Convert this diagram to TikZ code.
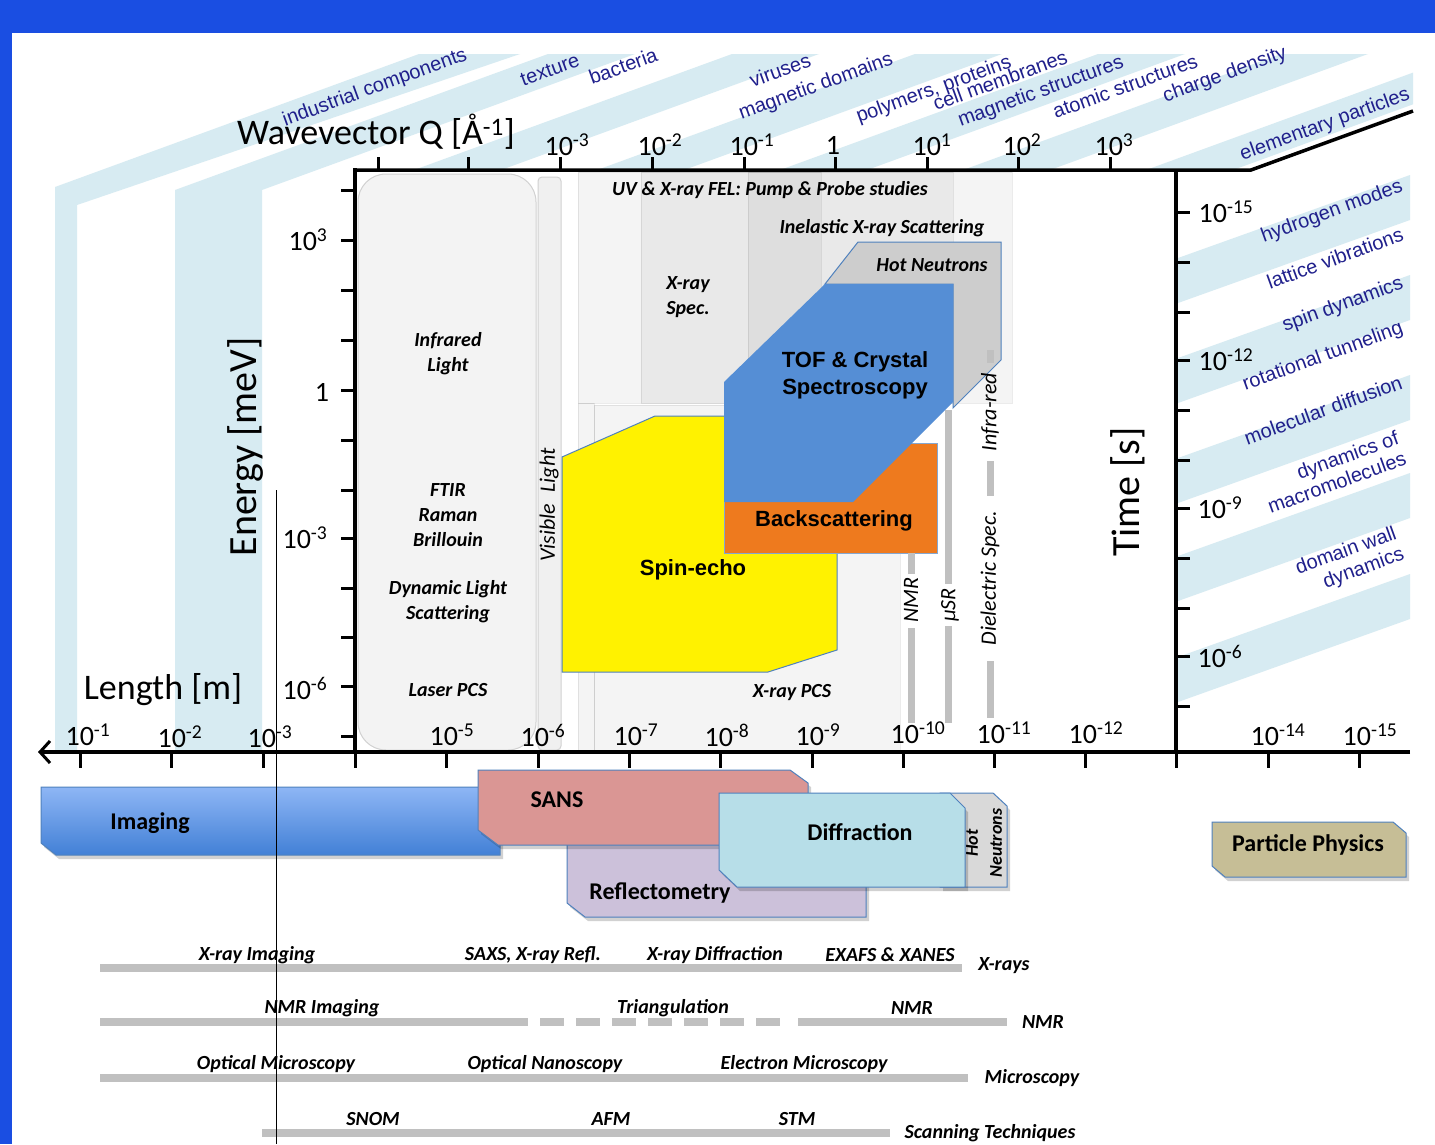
\documentclass[tikz,border=0pt]{standalone}
\usepackage{fontspec}
\setmainfont{Carlito}
\newfontfamily\arialf{Liberation Sans}
\usetikzlibrary{arrows.meta}
\newcommand\fsz[2]{\fontsize{#1}{#2}\selectfont}
\newcommand\sups[1]{\textsuperscript{#1}}
\definecolor{frameblue}{RGB}{26,78,226}
\definecolor{bandblue}{RGB}{215,235,242}
\definecolor{navyt}{RGB}{32,32,140}
\definecolor{tofblue}{RGB}{85,142,213}
\definecolor{bsorange}{RGB}{238,122,30}
\definecolor{edgeblue}{RGB}{79,129,189}
\definecolor{hotgray}{RGB}{205,205,205}
\definecolor{barg}{RGB}{192,192,192}
\definecolor{sanspink}{RGB}{218,150,148}
\definecolor{reflil}{RGB}{204,193,218}
\definecolor{diffblue}{RGB}{183,222,232}
\definecolor{ppkhaki}{RGB}{198,190,150}
\definecolor{imgtop}{RGB}{142,182,245}
\definecolor{imgbot}{RGB}{66,128,214}
\definecolor{panelgray}{RGB}{243,243,243}
\tikzset{
 axisline/.style={line width=3.5pt, black},
 tk/.style={line width=3pt, black},
 numlbl/.style={font=\fsz{28}{30}, inner sep=0pt},
 axlbl/.style={font=\fsz{36}{40}, inner sep=0pt},
 bandlbl/.style={text=navyt, font=\arialf\fsz{20}{22}, rotate=20, inner sep=0pt},
 plotlbl/.style={font=\bfseries\itshape\fsz{20}{25}, align=center, inner sep=0pt},
 biglbl/.style={font=\arialf\bfseries\fsz{22}{27}, align=center, inner sep=0pt},
 vertlbl/.style={font=\itshape\fsz{22}{24}, rotate=90, inner sep=0pt},
 boxlbl/.style={font=\bfseries\fsz{24}{26}, inner sep=0pt},
 rowlbl/.style={font=\bfseries\itshape\fsz{20}{22}, inner sep=0pt},
 rowbar/.style={line width=8pt, barg},
 techbar/.style={line width=7pt, barg},
 regionbox/.style={fill=black, fill opacity=0.045, draw=black, draw opacity=0.08, line width=0.8pt},
 boxedge/.style={draw=edgeblue, line width=1pt},
 shadowbox/.style={fill=black, opacity=0.18},
}
\begin{document}
\begin{tikzpicture}[x=1pt,y=-1pt]
\useasboundingbox (0,0) rectangle (1435,1144);
\fill[frameblue] (0,0) rectangle (1435,1144);
\fill[white] (12,33) rectangle (1435,1144);

% ---- left strips and top-face bands
\fill[bandblue] (55,752) -- (55,187) -- (419,54) -- (520,54) -- (77,205) -- (77,752) -- cycle;
\fill[bandblue] (175,752) -- (175,190) -- (548,54) -- (635,54) -- (262,190) -- (262,752) -- cycle;
\begin{scope}
\clip (355,54) rectangle (1413,170);
\foreach \q in {414,597,780,963,1146}
  \fill[bandblue] (\q,170) -- ({\q+87},170) -- ({\q+87+318},54) -- ({\q+318},54) -- cycle;
\end{scope}
% ---- right-face bands
\begin{scope}
\clip (1178,170) rectangle (1410,752);
\foreach \t in {175,275,375,473,574}
  \fill[bandblue] (1178,{\t+83}) -- (1410,\t) -- (1410,{\t+45}) -- (1178,{\t+128}) -- cycle;
\end{scope}

% ---- top-face labels
\node[bandlbl] (l1) at (375,88) {industrial components};
\node[bandlbl] (l2) at (550,70) {texture};
\node[bandlbl] (l3) at (623,66) {bacteria};
\node[bandlbl] (l4) at (780,70) {viruses};
\node[bandlbl] (l5) at (816,87) {magnetic domains};
\node[bandlbl] (l6) at (934,90) {polymers, proteins};
\node[bandlbl] (l7) at (1000,80) {cell membranes};
\node[bandlbl] (l8) at (1041,92) {magnetic structures};
\node[bandlbl] (l9) at (1125,86) {atomic structures};
\node[bandlbl] (l10) at (1225,75) {charge density};
\node[bandlbl] (l11) at (1325,125) {elementary particles};
% ---- right-face labels
\node[bandlbl] (r1) at (1332,212) {hydrogen modes};
\node[bandlbl] (r2) at (1335,258) {lattice vibrations};
\node[bandlbl] (r3) at (1343,305) {spin dynamics};
\node[bandlbl] (r4) at (1323,357) {rotational tunneling};
\node[bandlbl] (r5) at (1323,410) {molecular diffusion};
\node[bandlbl, align=right] (r6) at (1333,472) {dynamics of\\macromolecules};
\node[bandlbl, align=right] (r7) at (1350,562) {domain wall\\dynamics};

% ---- plot background regions
\draw[fill=panelgray, draw=black!18, line width=1pt, rounded corners=28pt] (358,174) rectangle (536,750);
\draw[fill=black!6, draw=black!18, line width=1pt, rounded corners=4pt] (538,177) rectangle (561,750);
\draw[regionbox] (578,172) rectangle (1012,403);
\draw[regionbox] (641,172) rectangle (821,403);
\draw[regionbox] (748,172) rectangle (953,403);
\draw[regionbox] (594,405) rectangle (900,750);
\draw[regionbox] (578,403) rectangle (594,750);

% ---- neutron techniques
\draw[boxedge, fill=hotgray] (825,284) -- (858,242) -- (1001,242) -- (1001,360) -- (953,408) -- (953,284) -- cycle;
\draw[boxedge, fill=yellow] (562,457) -- (655,416) -- (790,416) -- (837,445) -- (837,650) -- (768,672) -- (562,672) -- cycle;
\draw[draw=edgeblue!70, line width=1pt, fill=bsorange] (724,443) rectangle (937,553);
\fill[tofblue] (724,382) -- (825,284) -- (953,284) -- (953,402) -- (853,502) -- (724,502) -- cycle;

% ---- NMR, muSR, dielectric bars
\draw[techbar] (911,553) -- (911,574);
\draw[techbar] (911,628) -- (911,723);
\draw[techbar] (948,410) -- (948,584);
\draw[techbar] (948,626) -- (948,723);
\draw[techbar] (990,350) -- (990,363);
\draw[techbar] (990,461) -- (990,496);
\draw[techbar] (990,661) -- (990,718);
\node[vertlbl] (nmr) at (911,600) {NMR};
\node[vertlbl] (musr) at (950,605) {μSR};
\node[vertlbl] (ir) at (990,412) {Infra-red};
\node[vertlbl] (diel) at (990,578) {Dielectric Spec.};

% ---- plot labels
\node[plotlbl] (p1) at (448,354) {Infrared\\Light};
\node[plotlbl] (p2) at (448,515) {FTIR\\Raman\\Brillouin};
\node[plotlbl] (p3) at (448,602) {Dynamic Light\\Scattering};
\node[plotlbl] (p4) at (448,690) {Laser PCS};
\node[vertlbl] (vis) at (549,505) {Visible\enspace Light};
\node[plotlbl] (p5) at (770,190) {UV \& X-ray FEL: Pump \& Probe studies};
\node[plotlbl] (p6) at (882,228) {Inelastic X-ray Scattering};
\node[plotlbl] (p7) at (688,297) {X-ray\\Spec.};
\node[plotlbl] (p8) at (932,265) {Hot Neutrons};
\node[plotlbl] (p9) at (792,693) {X-ray PCS};
\node[biglbl] (tof) at (855,375) {TOF \& Crystal\\Spectroscopy};
\node[biglbl] (bs) at (834,521) {Backscattering};
\node[biglbl] (se) at (693,570) {Spin-echo};

% ---- axes
\draw[axisline, line join=miter] (353,170) -- (1251,170) -- (1413,111);
\draw[axisline] (355,168) -- (355,752);
\draw[axisline] (1176,170) -- (1176,752);
\draw[axisline, -{Straight Barb[length=10pt,width=22pt,line width=3pt]}] (1410,752) -- (38,752);
\foreach \x in {378,468,560,652,744,835,927,1018,1110} \draw[tk] (\x,170) -- (\x,157);
\foreach \y in {190,240,290,340,390,440,490,538,588,637,686,736} \draw[tk] (355,\y) -- (341,\y);
\foreach \y in {212,262,312,360,410,460,508,558,608,656,706} \draw[tk] (1176,\y) -- (1190,\y);
\foreach \x in {80,171,263,355,446,538,629,720,812,903,994,1085,1176,1268,1359} \draw[tk] (\x,752) -- (\x,768);

% ---- axis titles
\node[axlbl] (qlab) at (376,132) {Wavevector Q [Å\sups{-1}]};
\node[axlbl, font=\fsz{40}{44}, rotate=90] (elab) at (245,447) {Energy [meV]};
\node[axlbl] (llab) at (163,690) {Length [m]};
\node[axlbl, font=\fsz{40}{44}, rotate=90] (tlab) at (1128,492) {Time [s]};

% ---- Q tick labels
\node[numlbl] (q1) at (567,145) {10\sups{-3}};
\node[numlbl] (q2) at (660,145) {10\sups{-2}};
\node[numlbl] (q3) at (752,145) {10\sups{-1}};
\node[numlbl] (q4) at (833,145) {1};
\node[numlbl] (q5) at (932,145) {10\sups{1}};
\node[numlbl] (q6) at (1022,145) {10\sups{2}};
\node[numlbl] (q7) at (1114,145) {10\sups{3}};
% ---- energy tick labels
\node[numlbl] (e1) at (308,240) {10\sups{3}};
\node[numlbl] (e2) at (322,392) {1};
\node[numlbl] (e3) at (305,538) {10\sups{-3}};
\node[numlbl] (e4) at (305,688) {10\sups{-6}};
% ---- time tick labels
\node[numlbl] (s1) at (1226,212) {10\sups{-15}};
\node[numlbl] (s2) at (1226,360) {10\sups{-12}};
\node[numlbl] (s3) at (1220,508) {10\sups{-9}};
\node[numlbl] (s4) at (1220,656) {10\sups{-6}};
% ---- length tick labels
\node[numlbl] (m1) at (88,735) {10\sups{-1}};
\node[numlbl] (m2) at (180,737) {10\sups{-2}};
\node[numlbl] (m3) at (270,737) {10\sups{-3}};
\node[numlbl] (m5) at (452,735) {10\sups{-5}};
\node[numlbl] (m6) at (543,735) {10\sups{-6}};
\node[numlbl] (m7) at (636,735) {10\sups{-7}};
\node[numlbl] (m8) at (727,735) {10\sups{-8}};
\node[numlbl] (m9) at (818,735) {10\sups{-9}};
\node[numlbl] (m10) at (918,733) {10\sups{-10}};
\node[numlbl] (m11) at (1004,733) {10\sups{-11}};
\node[numlbl] (m12) at (1096,733) {10\sups{-12}};
\node[numlbl] (m14) at (1278,735) {10\sups{-14}};
\node[numlbl] (m15) at (1370,735) {10\sups{-15}};

% ---- bottom technique boxes
\fill[shadowbox] (44,791) -- (503,791) -- (503,859) -- (59,859) -- (44,847) -- cycle;
\shadedraw[top color=imgtop, bottom color=imgbot, boxedge] (41,787) -- (500,787) -- (500,855) -- (56,855) -- (41,843) -- cycle;
\fill[shadowbox] (570,844) -- (869,844) -- (869,921) -- (588,921) -- (570,907) -- cycle;
\draw[boxedge, fill=reflil] (567,840) -- (866,840) -- (866,917) -- (585,917) -- (567,903) -- cycle;
\fill[shadowbox] (481,774) -- (793,774) -- (811,787) -- (811,849) -- (501,849) -- (481,834) -- cycle;
\draw[boxedge, fill=sanspink] (478,770) -- (790,770) -- (808,783) -- (808,845) -- (498,845) -- (478,830) -- cycle;
\fill[shadowbox] (943,797) -- (996,797) -- (1010,810) -- (1010,891) -- (943,891) -- cycle;
\draw[boxedge, fill=black!15] (940,793) -- (993,793) -- (1007,806) -- (1007,887) -- (940,887) -- cycle;
\fill[shadowbox] (722,797) -- (953,797) -- (968,812) -- (968,891) -- (740,891) -- (722,874) -- cycle;
\draw[boxedge, fill=diffblue] (719,793) -- (950,793) -- (965,808) -- (965,887) -- (737,887) -- (719,870) -- cycle;
\fill[shadowbox] (1215,826) -- (1396,826) -- (1409,837) -- (1409,881) -- (1228,881) -- (1215,870) -- cycle;
\draw[boxedge, fill=ppkhaki] (1212,822) -- (1393,822) -- (1406,833) -- (1406,877) -- (1225,877) -- (1212,866) -- cycle;
\node[boxlbl] (img) at (150,823) {Imaging};
\node[boxlbl] (sans) at (557,800) {SANS};
\node[boxlbl] (refl) at (660,893) {Reflectometry};
\node[boxlbl] (diff) at (860,832) {Diffraction};
\node[rowlbl, font=\bfseries\itshape\fsz{18}{20}, rotate=90] (hot1) at (972,843) {Hot};
\node[rowlbl, font=\bfseries\itshape\fsz{18}{20}, rotate=90] (hot2) at (996,843) {Neutrons};
\node[boxlbl] (pp) at (1308,845) {Particle Physics};

% ---- technique rows
\draw[rowbar] (100,968) -- (962,968);
\draw[rowbar] (100,1022) -- (528,1022);
\draw[rowbar, dash pattern=on 24pt off 12pt] (540,1022) -- (785,1022);
\draw[rowbar] (798,1022) -- (1007,1022);
\draw[rowbar] (100,1078) -- (968,1078);
\draw[rowbar] (262,1133) -- (890,1133);
\node[rowlbl] (x1) at (257,955) {X-ray Imaging};
\node[rowlbl] (x2) at (533,955) {SAXS, X-ray Refl.};
\node[rowlbl] (x3) at (715,955) {X-ray Diffraction};
\node[rowlbl] (x4) at (890,955) {EXAFS \& XANES};
\node[rowlbl] (x5) at (1004,966) {X-rays};
\node[rowlbl] (n1) at (322,1008) {NMR Imaging};
\node[rowlbl] (n2) at (673,1008) {Triangulation};
\node[rowlbl] (n3) at (912,1008) {NMR};
\node[rowlbl] (n4) at (1043,1022) {NMR};
\node[rowlbl] (o1) at (276,1064) {Optical Microscopy};
\node[rowlbl] (o2) at (545,1064) {Optical Nanoscopy};
\node[rowlbl] (o3) at (804,1064) {Electron Microscopy};
\node[rowlbl] (o4) at (1032,1078) {Microscopy};
\node[rowlbl] (c1) at (373,1119) {SNOM};
\node[rowlbl] (c2) at (611,1119) {AFM};
\node[rowlbl] (c3) at (797,1119) {STM};
\node[rowlbl] (c4) at (990,1133) {Scanning Techniques};

% ---- thin vertical line
\draw[black, line width=0.8pt] (276,490) -- (276,1144);
\end{tikzpicture}
\end{document}
